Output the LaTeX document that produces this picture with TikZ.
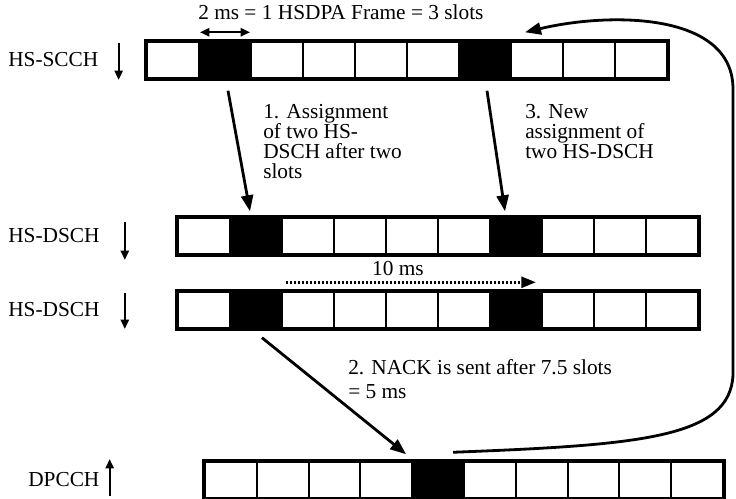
\documentclass[tikz,border=0pt]{standalone}
\usepackage{fontspec}
\setmainfont{Liberation Serif}
\usetikzlibrary{arrows.meta, positioning, calc}
\tikzset{
    slot_white/.style={
        rectangle, draw=black, line width=1.6pt, fill=white,
        minimum width=39pt, minimum height=26.5pt, inner sep=0pt
    },
    slot_wide/.style={
        slot_white, minimum width=38.85pt
    },
    frame_line/.style={
        draw=black, line width=2.8pt
    },
    event_arrow/.style={
        -{Triangle[length=12pt, width=9pt]}, draw=black, line width=2.1pt
    },
    dir_arrow/.style={
        -{Triangle[length=7pt, width=6pt]}, line width=1.7pt
    },
    span_arrow/.style={
        {Triangle[length=7pt, width=6pt]}-{Triangle[length=7pt, width=6pt]}, line width=1.7pt
    },
    dot_arrow/.style={
        -{Triangle[length=11pt, width=8pt]}, line width=2.4pt, dash pattern=on 1.8pt off 1.2pt
    },
    lbl/.style={
        inner sep=0pt, align=left, font=\fontsize{16}{15}\selectfont
    }
}

\begin{document}
\begin{tikzpicture}[x=0.75pt, y=-0.75pt]
    \useasboundingbox (0,0) rectangle (736,499);

    % --- Row 1: HS-SCCH ---
    \foreach \i in {1,...,10} {
        \node[slot_white] (scch-\i) at ({147+52*(\i-1)+26}, 60) {};
    }
    \foreach \i in {2,7} {
        \fill[black] (scch-\i.north west) rectangle (scch-\i.south east);
    }
    \draw[frame_line] (scch-1.north west) rectangle (scch-10.south east);

    % --- Row 2 and 3: HS-DSCH ---
    \foreach \i in {1,...,10} {
        \node[slot_white] (dschA-\i) at ({178+52*(\i-1)+26}, 236) {};
        \node[slot_white] (dschB-\i) at ({178+52*(\i-1)+26}, 310) {};
    }
    \foreach \i in {2,7} {
        \fill[black] (dschA-\i.north west) rectangle (dschA-\i.south east);
        \fill[black] (dschB-\i.north west) rectangle (dschB-\i.south east);
    }
    \draw[frame_line] (dschA-1.north west) rectangle (dschA-10.south east);
    \draw[frame_line] (dschB-1.north west) rectangle (dschB-10.south east);

    % --- Row 4: DPCCH ---
    \foreach \i in {1,...,10} {
        \node[slot_wide] (dp-\i) at ({205+51.8*(\i-1)+25.9}, 480) {};
    }
    \fill[black] (dp-5.north west) rectangle (dp-5.south east);
    \draw[frame_line] (dp-1.north west) rectangle (dp-10.south east);

    % --- Channel labels ---
    \node[lbl, anchor=west] (l_scch) at (8, 60) {HS-SCCH};
    \node[lbl, anchor=west] (l_dschA) at (8, 236) {HS-DSCH};
    \node[lbl, anchor=west] (l_dschB) at (8, 310) {HS-DSCH};
    \node[lbl, anchor=west] (l_dpcch) at (28, 480) {DPCCH};

    \draw[dir_arrow] ($(l_scch.east)+(20,-17)$) -- ++(0,37);
    \draw[dir_arrow] ($(l_dschA.east)+(25,-14)$) -- ++(0,38);
    \draw[dir_arrow] ($(l_dschB.east)+(25,-17)$) -- ++(0,36);
    \draw[dir_arrow] ($(l_dpcch.east)+(10,16)$) -- ++(0,-37);

    % --- Texts ---
    \node[lbl, anchor=base west] (t_frame) at (198, 20) {2 ms = 1 HSDPA Frame = 3 slots};
    \node[lbl, anchor=north west] (t_assign) at (263, 104) {1. Assignment\\of two HS-\\DSCH after two\\slots};
    \node[lbl, anchor=north west] (t_newassign) at (525, 104) {3. New\\assignment of\\two HS-DSCH};
    \node[lbl, anchor=base] (t_ten) at (398, 276) {10 ms};
    \node[lbl, anchor=north west] (t_nack) at (348, 359) {2. NACK is sent after 7.5 slots\\[3pt]= 5 ms};

    % --- Arrows ---
    \draw[span_arrow] ($(scch-2.north west)+(2,-9)$) -- ($(scch-2.north east)+(-2,-9)$);
    \draw[event_arrow] ($(scch-2.south)+(3,12)$) -- ($(dschA-2.north)+(-6,-6)$);
    \draw[event_arrow] ($(scch-7.south)+(2,12)$) -- ($(dschA-7.north)+(-11,-6)$);
    \draw[dot_arrow] ($(dschB-2.north east)+(3,-9)$) -- ($(dschB-7.north east)+(-7,-9)$);
    \draw[event_arrow] ($(dschB-2.south)+(6,9)$) -- ($(dp-5.north west)+(-5,-7)$);

    % NACK back to HS-SCCH
    \coordinate (c_low) at (733,375);
    \coordinate (c_high) at (733,90);
    \draw[event_arrow] ($(dp-5.north)+(15,-9)$) .. controls (640,445) and (730,438) .. (c_low)
        -- (c_high) .. controls (734,12) and (610,12) .. ($(scch-8.north)+(-12,-9)$);

\end{tikzpicture}
\end{document}
